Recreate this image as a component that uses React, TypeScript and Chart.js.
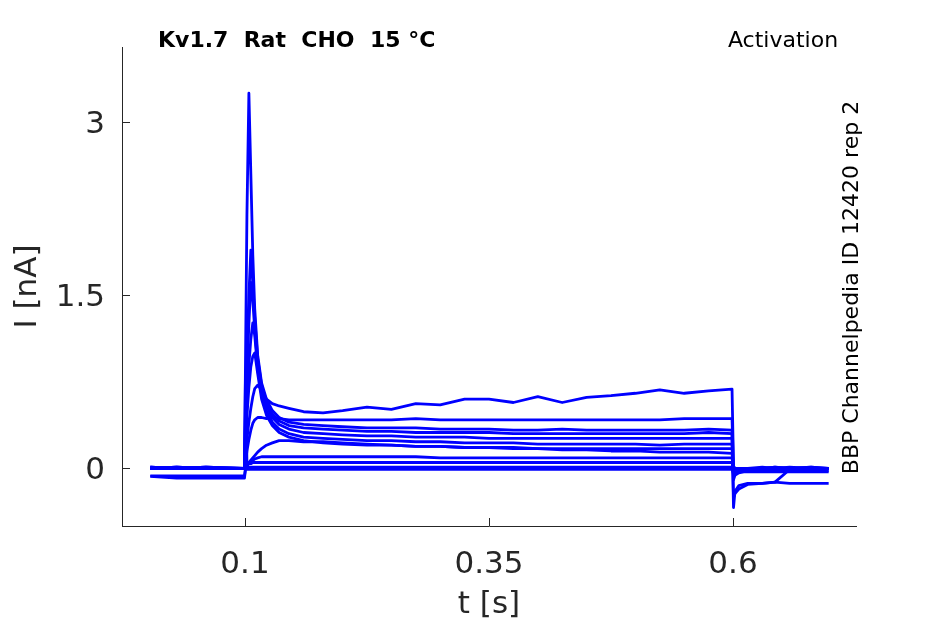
import React, { useEffect, useRef } from "react";
import { Chart, registerables } from "chart.js";

Chart.register(...registerables);

const FONT = '"DejaVu Sans", "Liberation Sans", sans-serif';
const AXIS_COLOR = "#262626";
const TRACE_COLOR = "#0000ff";

const TITLE = "Kv1.7  Rat  CHO  15 °C";
const PROTOCOL = "Activation";
const SOURCE = "BBP Channelpedia ID 12420 rep 2";

const xTicks = [0.1, 0.35, 0.6];
const xTickLabels = ["0.1", "0.35", "0.6"];
const yTicks = [0, 1.5, 3];
const yTickLabels = ["0", "1.5", "3"];

// time (s)
const times = [
  0.003, 0.03, 0.06, 0.0995, 0.1005, 0.102, 0.104, 0.106, 0.108, 0.11,
  0.113, 0.117, 0.122, 0.128, 0.135, 0.145, 0.16, 0.18,
  0.2, 0.225, 0.25, 0.275, 0.3, 0.325, 0.35, 0.375, 0.4, 0.425,
  0.45, 0.475, 0.5, 0.525, 0.55, 0.575, 0.599,
  0.6005, 0.602, 0.606, 0.615, 0.63, 0.643, 0.658, 0.68, 0.698,
];

// currents (nA), one array per voltage step
const traceA = [
  0.01, 0.0, 0.01, 0.0, 0.9, 2.2, 3.25, 2.55, 1.85, 1.38,
  0.98, 0.74, 0.6, 0.5, 0.44, 0.4, 0.38, 0.37,
  0.36, 0.35, 0.35, 0.35, 0.34, 0.34, 0.34, 0.33, 0.33, 0.34,
  0.33, 0.33, 0.33, 0.33, 0.33, 0.34, 0.33,
  -0.34, -0.2, -0.15, -0.13, -0.13, -0.12, -0.13, -0.13, -0.13,
];
const traceB = [
  0.0, 0.01, 0.0, 0.0, 0.5, 1.0, 1.5, 1.89, 1.6, 1.3,
  0.95, 0.72, 0.57, 0.47, 0.41, 0.37, 0.35, 0.34,
  0.33, 0.32, 0.32, 0.31, 0.31, 0.31, 0.31, 0.3, 0.3, 0.3,
  0.3, 0.3, 0.3, 0.3, 0.3, 0.31, 0.3,
  -0.25, -0.22, -0.18, -0.14, -0.13, -0.12, -0.01, 0.0, 0.0,
];
const traceC = [
  0.0, 0.0, 0.01, 0.0, 0.4, 0.8, 1.25, 1.61, 1.45, 1.2,
  0.9, 0.68, 0.54, 0.44, 0.38, 0.34, 0.31, 0.3,
  0.29, 0.28, 0.28, 0.27, 0.27, 0.27, 0.26, 0.26, 0.26, 0.26,
  0.26, 0.26, 0.26, 0.26, 0.26, 0.26, 0.26,
  -0.1, -0.06, -0.04, -0.02, -0.01, 0.0, 0.0, 0.0, 0.0,
];
const traceD = [
  0.01, 0.0, 0.0, 0.0, 0.3, 0.6, 0.9, 1.12, 1.26, 1.15,
  0.86, 0.64, 0.5, 0.4, 0.34, 0.3, 0.27, 0.26,
  0.25, 0.24, 0.24, 0.23, 0.23, 0.22, 0.22, 0.22, 0.21, 0.21,
  0.21, 0.21, 0.21, 0.2, 0.21, 0.21, 0.21,
  -0.06, -0.04, -0.03, -0.02, -0.01, 0.0, 0.0, 0.01, 0.0,
];
const traceE = [
  0.0, 0.0, 0.0, 0.0, 0.2, 0.45, 0.7, 0.88, 0.97, 1.0,
  0.82, 0.6, 0.46, 0.37, 0.31, 0.27, 0.24, 0.22,
  0.21, 0.2, 0.2, 0.19, 0.19, 0.18, 0.18, 0.18, 0.17, 0.17,
  0.17, 0.17, 0.17, 0.17, 0.17, 0.17, 0.17,
  -0.04, -0.03, -0.02, -0.01, 0.0, 0.0, 0.0, 0.0, 0.0,
];
const traceF = [
  0.0, 0.0, 0.01, 0.0, 0.1, 0.25, 0.4, 0.52, 0.62, 0.69,
  0.72, 0.68, 0.6, 0.56, 0.54, 0.52, 0.49, 0.48,
  0.5, 0.53, 0.51, 0.56, 0.55, 0.6, 0.6, 0.57, 0.62, 0.57,
  0.615, 0.63, 0.65, 0.68, 0.65, 0.67, 0.685,
  0.02, 0.0, -0.02, -0.01, 0.0, 0.01, 0.0, 0.0, 0.0,
];
const traceG = [
  0.0, 0.01, 0.0, 0.0, 0.05, 0.15, 0.25, 0.33, 0.39, 0.42,
  0.44, 0.44, 0.43, 0.44, 0.43, 0.42, 0.42, 0.42,
  0.42, 0.42, 0.42, 0.43, 0.42, 0.42, 0.42, 0.42, 0.42, 0.42,
  0.42, 0.42, 0.42, 0.42, 0.43, 0.43, 0.43,
  0.0, -0.01, 0.0, 0.0, 0.01, 0.0, 0.0, 0.01, 0.0,
];
const traceH = [
  0.0, 0.0, 0.0, 0.0, 0.01, 0.03, 0.05, 0.07, 0.09, 0.11,
  0.14, 0.17, 0.2, 0.22, 0.24, 0.24, 0.23, 0.23,
  0.22, 0.21, 0.2, 0.19, 0.19, 0.18, 0.18, 0.17, 0.17, 0.16,
  0.16, 0.15, 0.15, 0.14, 0.14, 0.14, 0.13,
  -0.02, -0.02, -0.01, 0.0, 0.0, 0.0, 0.01, 0.0, 0.0,
];
const traceI = [
  0.01, 0.0, 0.0, 0.0, 0.01, 0.02, 0.04, 0.06, 0.07, 0.08,
  0.09, 0.1, 0.1, 0.1, 0.1, 0.1, 0.1, 0.1,
  0.1, 0.1, 0.1, 0.1, 0.09, 0.09, 0.09, 0.09, 0.09, 0.09,
  0.09, 0.09, 0.09, 0.09, 0.09, 0.09, 0.09,
  -0.01, -0.01, 0.0, 0.0, 0.0, 0.01, 0.0, 0.0, 0.0,
];
const traceJ = [
  0.0, 0.0, 0.0, 0.0, 0.82, 0.05, 0.04, 0.04, 0.05, 0.05,
  0.05, 0.05, 0.05, 0.05, 0.05, 0.05, 0.05, 0.05,
  0.05, 0.05, 0.05, 0.05, 0.05, 0.05, 0.05, 0.05, 0.05, 0.05,
  0.05, 0.05, 0.05, 0.05, 0.05, 0.05, 0.05,
  0.0, 0.0, -0.01, 0.0, 0.0, 0.0, 0.0, 0.0, 0.0,
];
const traceK = [
  0.0, 0.01, 0.0, 0.0, 0.01, 0.01, 0.01, 0.01, 0.01, 0.01,
  0.01, 0.01, 0.01, 0.01, 0.01, 0.01, 0.01, 0.01,
  0.01, 0.01, 0.01, 0.01, 0.01, 0.01, 0.01, 0.01, 0.01, 0.01,
  0.01, 0.01, 0.01, 0.01, 0.01, 0.01, 0.01,
  0.0, 0.0, 0.0, 0.0, 0.0, 0.0, 0.0, 0.0, 0.0,
];
const traceL = [
  -0.065, -0.065, -0.065, -0.065, 0.0, 0.0, 0.0, 0.0, 0.0, 0.0,
  0.0, 0.0, 0.0, 0.0, 0.0, 0.0, 0.0, 0.0,
  0.0, 0.0, 0.0, 0.0, 0.0, 0.0, 0.0, 0.0, 0.0, 0.0,
  0.0, 0.0, 0.0, 0.0, 0.0, 0.0, 0.0,
  -0.03, -0.03, -0.02, -0.02, -0.02, -0.02, -0.02, -0.02, -0.02,
];
const traceM = [
  -0.07, -0.085, -0.085, -0.085, -0.01, -0.01, -0.01, -0.01, -0.01, -0.01,
  -0.01, -0.01, -0.01, -0.01, -0.01, -0.01, -0.01, -0.01,
  -0.01, -0.01, -0.01, -0.01, -0.01, -0.01, -0.01, -0.01, -0.01, -0.01,
  -0.01, -0.01, -0.01, -0.01, -0.01, -0.01, -0.01,
  -0.05, -0.04, -0.03, -0.03, -0.03, -0.03, -0.03, -0.03, -0.03,
];

const traces = [
  traceA, traceB, traceC, traceD, traceE, traceF, traceG,
  traceH, traceI, traceJ, traceK, traceL, traceM,
];

const overlayPlugin = {
  id: "overlay",
  afterDraw(chart: any) {
    const { ctx, chartArea, scales } = chart;
    const xs = scales.x;
    const ys = scales.y;
    ctx.save();
    // inward tick marks
    ctx.strokeStyle = AXIS_COLOR;
    ctx.lineWidth = 1;
    ctx.beginPath();
    xTicks.forEach((v) => {
      const px = Math.round(xs.getPixelForValue(v)) + 0.5;
      ctx.moveTo(px, chartArea.bottom);
      ctx.lineTo(px, chartArea.bottom - 8);
    });
    yTicks.forEach((v) => {
      const py = Math.round(ys.getPixelForValue(v)) + 0.5;
      ctx.moveTo(chartArea.left, py);
      ctx.lineTo(chartArea.left + 8, py);
    });
    ctx.stroke();

    // texts
    ctx.fillStyle = "#000";
    ctx.textBaseline = "alphabetic";
    ctx.font = `bold 22px ${FONT}`;
    ctx.textAlign = "left";
    ctx.fillText(TITLE, chartArea.left + 36, chartArea.top);
    ctx.font = `22px ${FONT}`;
    ctx.textAlign = "center";
    ctx.fillText(PROTOCOL, chartArea.right - 73, chartArea.top);

    ctx.translate(chartArea.right + 2, (chartArea.top + chartArea.bottom) / 2 + 1);
    ctx.rotate(-Math.PI / 2);
    ctx.textAlign = "center";
    ctx.fillText(SOURCE, 0, 0);
    ctx.restore();
  },
};

export default function App() {
  const canvasRef = useRef<HTMLCanvasElement | null>(null);

  useEffect(() => {
    const canvas = canvasRef.current;
    if (!canvas) return;
    const chart = new Chart(canvas, {
      type: "line",
      data: {
        datasets: traces.map((tr, k) => ({
          label: `trace ${k + 1}`,
          data: times.map((t, i) => ({ x: t, y: tr[i] })),
          borderColor: TRACE_COLOR,
          backgroundColor: TRACE_COLOR,
          borderWidth: 2.8,
          pointRadius: 0,
          tension: 0,
          fill: false,
          borderJoinStyle: "round" as const,
        })),
      },
      options: {
        animation: false,
        responsive: false,
        devicePixelRatio: 1,
        layout: { padding: { top: 47, right: 89, left: 0, bottom: 0 } },
        plugins: {
          legend: { display: false },
          tooltip: { enabled: false },
        },
        scales: {
          x: {
            type: "linear",
            min: -0.026,
            max: 0.726,
            afterBuildTicks: (scale: any) => {
              scale.ticks = xTicks.map((v) => ({ value: v }));
            },
            afterFit: (scale: any) => {
              scale.height = 98;
            },
            ticks: {
              autoSkip: false,
              maxRotation: 0,
              padding: 20,
              color: AXIS_COLOR,
              font: { family: FONT, size: 31 },
              callback: (v: any) => {
                const idx = xTicks.indexOf(Number(v));
                return idx >= 0 ? xTickLabels[idx] : "";
              },
            },
            grid: { display: true, drawOnChartArea: false, drawTicks: false },
            border: { display: true, color: AXIS_COLOR, width: 1 },
            title: {
              display: true,
              text: "t [s]",
              color: AXIS_COLOR,
              font: { family: FONT, size: 31 },
              padding: { top: 0, bottom: 0 },
            },
          },
          y: {
            type: "linear",
            min: -0.5,
            max: 3.65,
            afterBuildTicks: (scale: any) => {
              scale.ticks = yTicks.map((v) => ({ value: v }));
            },
            afterFit: (scale: any) => {
              scale.width = 122;
            },
            ticks: {
              autoSkip: false,
              padding: 17,
              labelOffset: 2.5,
              color: AXIS_COLOR,
              font: { family: FONT, size: 31 },
              callback: (v: any) => {
                const idx = yTicks.indexOf(Number(v));
                return idx >= 0 ? yTickLabels[idx] : "";
              },
            },
            grid: { display: true, drawOnChartArea: false, drawTicks: false },
            border: { display: true, color: AXIS_COLOR, width: 1 },
            title: {
              display: true,
              text: "I [nA]",
              color: AXIS_COLOR,
              font: { family: FONT, size: 31 },
              padding: { top: 9, bottom: 0 },
            },
          },
        },
      },
      plugins: [overlayPlugin],
    });
    return () => chart.destroy();
  }, []);

  return (
    <div style={{ position: "fixed", left: 0, top: 0, width: 945, height: 624, background: "#fff" }}>
      <canvas ref={canvasRef} width={945} height={624} style={{ width: 945, height: 624 }} />
    </div>
  );
}
